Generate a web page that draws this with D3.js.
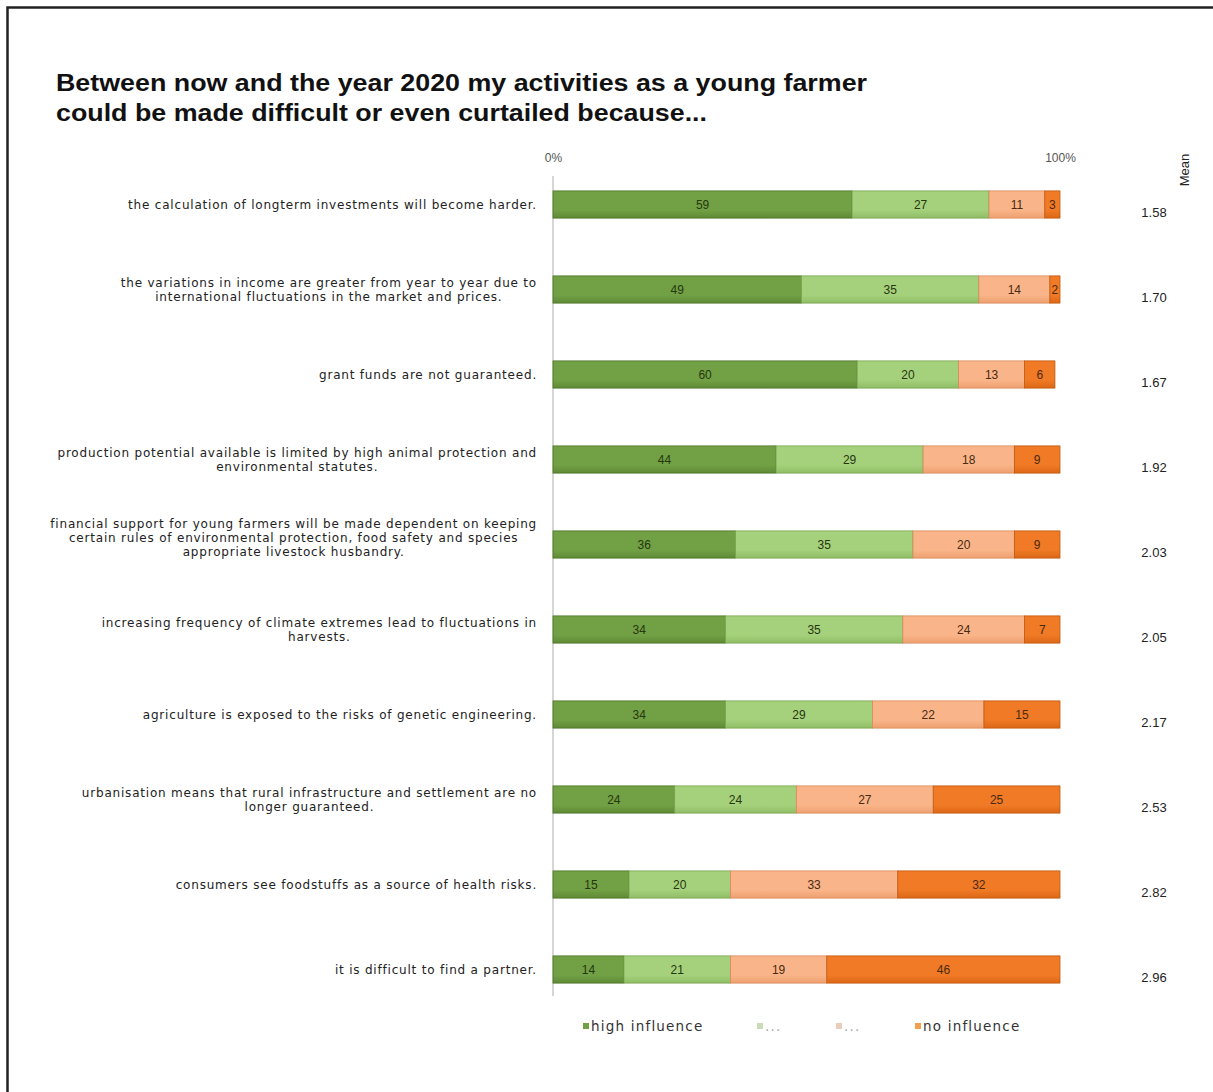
<!DOCTYPE html>
<html>
<head>
<meta charset="utf-8">
<script src="https://cdn.jsdelivr.net/npm/d3@7"></script>
<style>
  html, body { margin: 0; padding: 0; background: #fff; }
  svg { display: block; }
</style>
</head>
<body>
<svg id="chart" width="1213" height="1092"></svg>
<script>
// Statements (one entry per bar, lines split as they wrap)
const categories = [
  ["the calculation of longterm investments will become harder."],
  ["the variations in income are greater from year to year due to", "international fluctuations in the market and prices."],
  ["grant funds are not guaranteed."],
  ["production potential available is limited by high animal protection and", "environmental statutes."],
  ["financial support for young farmers will be made dependent on keeping", "certain rules of environmental protection, food safety and species", "appropriate livestock husbandry."],
  ["increasing frequency of climate extremes lead to fluctuations in", "harvests."],
  ["agriculture is exposed to the risks of genetic engineering."],
  ["urbanisation means that rural infrastructure and settlement are no", "longer guaranteed."],
  ["consumers see foodstuffs as a source of health risks."],
  ["it is difficult to find a partner."]
];

// Share of answers (%) per influence level
const highInfluence = [59, 49, 60, 44, 36, 34, 34, 24, 15, 14];
const level2        = [27, 35, 20, 29, 35, 35, 29, 24, 20, 21];
const level3        = [11, 14, 13, 18, 20, 24, 22, 27, 33, 19];
const noInfluence   = [3, 2, 6, 9, 9, 7, 15, 25, 32, 46];

const means = ["1.58", "1.70", "1.67", "1.92", "2.03", "2.05", "2.17", "2.53", "2.82", "2.96"];

const seriesNames = ["high influence", "...", "...", "no influence"];
const axisTicks = [0, 100];

const colors = ["#72a145", "#a6d17c", "#f9b589", "#f07a26"];
const darkColors = ["#5f8a35", "#8fbd66", "#eea070", "#dc6715"];
const edgeColors = ["#4a7325", "#7aa650", "#d98a5a", "#c0580e"];

const svg = d3.select("#chart");

// gradients give the bars a slight shading
const defs = svg.append("defs");
colors.forEach((c, k) => {
  const gr = defs.append("linearGradient").attr("id", "grad" + k)
    .attr("x1", 0).attr("y1", 0).attr("x2", 0).attr("y2", 1);
  gr.append("stop").attr("offset", "0%").attr("stop-color", c);
  gr.append("stop").attr("offset", "70%").attr("stop-color", c);
  gr.append("stop").attr("offset", "100%").attr("stop-color", darkColors[k]);
});

// frame (left and top edges)
svg.append("path")
  .attr("d", "M7.5,1092 V7.5 H1213")
  .attr("fill", "none").attr("stroke", "#222").attr("stroke-width", 2.5);

// title
const titleLines = [
  {t: "Between now and the year 2020 my activities as a young farmer", y: 91, w: 811},
  {t: "could be made difficult or even curtailed because...", y: 121, w: 651}
];
svg.selectAll("text.title").data(titleLines).join("text")
  .attr("class", "title")
  .attr("x", 56).attr("y", d => d.y)
  .attr("font-family", "Liberation Sans, Arial, sans-serif")
  .attr("font-weight", "bold").attr("font-size", 23)
  .attr("fill", "#111")
  .attr("textLength", d => d.w).attr("lengthAdjust", "spacingAndGlyphs")
  .text(d => d.t);

// scales
const x = d3.scaleLinear().domain([0, 100]).range([553, 1060]);
const y = d3.scaleBand().domain(d3.range(categories.length))
  .range([162, 1012]).paddingInner(0.68).paddingOuter(0.34);

// top percent axis
const axis = d3.axisTop(x).tickValues(axisTicks).tickFormat(d => d + "%").tickSize(0);
const ag = svg.append("g").attr("transform", "translate(0,165)").call(axis);
ag.select(".domain").remove();
ag.selectAll("text")
  .attr("font-family", "Liberation Sans, Arial, sans-serif")
  .attr("font-size", 12).attr("fill", "#555");

// vertical baseline
svg.append("line")
  .attr("x1", x(0)).attr("x2", x(0))
  .attr("y1", 176).attr("y2", 996)
  .attr("stroke", "#c8c8c8").attr("stroke-width", 1.5);

// stacked data
const rows = categories.map((c, i) => ({
  i, values: [highInfluence[i], level2[i], level3[i], noInfluence[i]]
}));
const stack = d3.stack().keys([0, 1, 2, 3]);
const stacked = stack(rows.map(r => r.values));

const gBars = svg.append("g");
stacked.forEach((layer, k) => {
  const g = gBars.append("g");
  g.selectAll("rect").data(layer).join("rect")
    .attr("x", d => x(d[0]))
    .attr("y", (d, i) => y(i))
    .attr("width", d => x(d[1]) - x(d[0]))
    .attr("height", y.bandwidth())
    .attr("fill", "url(#grad" + k + ")")
    .attr("stroke", edgeColors[k]).attr("stroke-width", 0.8);
  g.selectAll("text").data(layer).join("text")
    .attr("x", d => (x(d[0]) + x(d[1])) / 2)
    .attr("y", (d, i) => y(i) + y.bandwidth() / 2 + 4.5)
    .attr("text-anchor", "middle")
    .attr("font-family", "Liberation Sans, Arial, sans-serif")
    .attr("font-size", 12)
    .attr("fill", k < 2 ? "#26360f" : "#4a2a10")
    .text((d, i) => rows[i].values[k]);
});

// category labels, right-aligned block with centred lines
const lineH = 14;
categories.forEach((lines, i) => {
  const g = svg.append("g");
  const cy = y(i) + y.bandwidth() / 2;
  const shift = lines.length === 1 ? 0 : (lines.length === 2 ? 0 : -7);
  const texts = g.selectAll("text").data(lines).join("text")
    .attr("font-family", "DejaVu Sans, Verdana, sans-serif")
    .attr("font-size", 12)
    .attr("letter-spacing", 0.8)
    .attr("fill", "#222")
    .attr("text-anchor", "middle")
    .attr("y", (d, j) => cy + 4 - (lines.length - 1) * lineH / 2 + j * lineH + shift)
    .text(d => d);
  let maxW = 0;
  texts.each(function() { maxW = Math.max(maxW, this.getComputedTextLength()); });
  texts.attr("x", 537 - maxW / 2);
});

// mean column
svg.append("text")
  .attr("transform", "translate(1189,170) rotate(-90)")
  .attr("text-anchor", "middle")
  .attr("font-family", "Liberation Sans, Arial, sans-serif")
  .attr("font-size", 13).attr("fill", "#222")
  .text("Mean");
svg.selectAll("text.mean").data(means).join("text")
  .attr("class", "mean")
  .attr("x", 1154)
  .attr("y", (d, i) => y(i) + y.bandwidth() / 2 + 12)
  .attr("text-anchor", "middle")
  .attr("font-family", "Liberation Sans, Arial, sans-serif")
  .attr("font-size", 13).attr("fill", "#222")
  .text(d => d);

// legend
const legendX = [583, 757, 836, 915];
const legendFill = ["#72a145", "#c8dcb8", "#e8cdbd", "#f0a050"];
const lg = svg.append("g");
seriesNames.forEach((name, k) => {
  lg.append("rect")
    .attr("x", legendX[k]).attr("y", 1023)
    .attr("width", 6).attr("height", 6)
    .attr("fill", legendFill[k]);
  lg.append("text")
    .attr("x", legendX[k] + 8).attr("y", 1031)
    .attr("font-family", "DejaVu Sans, Verdana, sans-serif")
    .attr("font-size", 13.5).attr("letter-spacing", 1.2)
    .attr("fill", k === 1 || k === 2 ? "#aaa" : "#333")
    .text(name);
});
</script>
</body>
</html>
